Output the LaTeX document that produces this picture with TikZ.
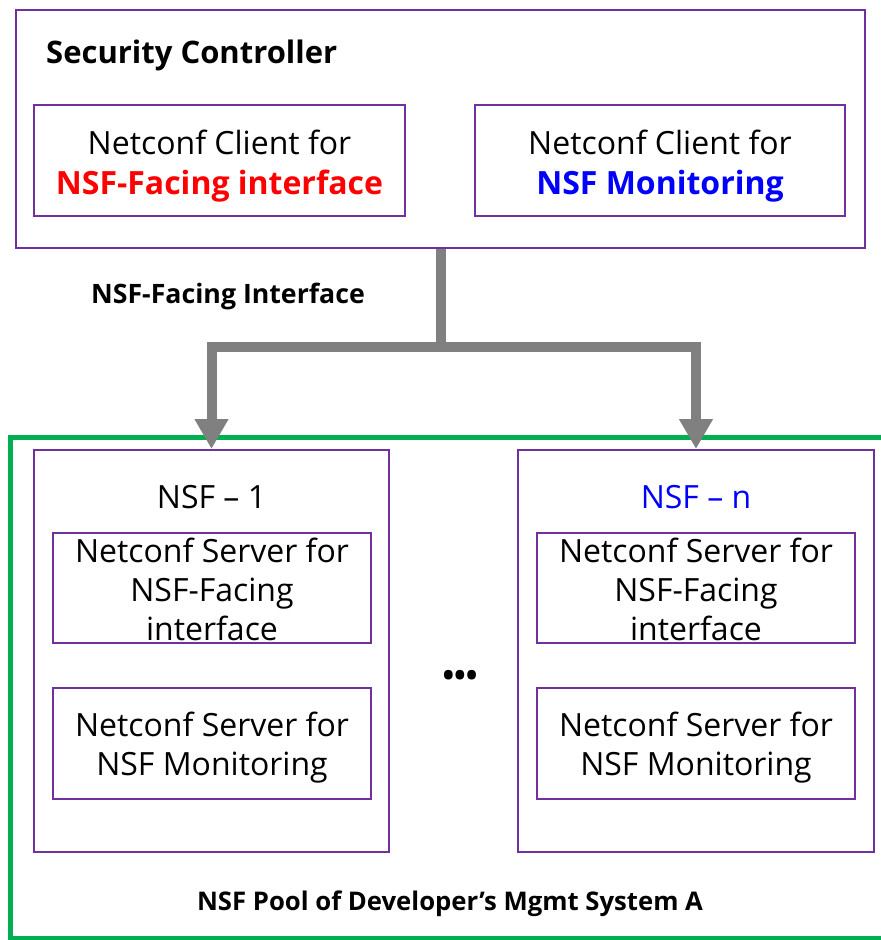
\documentclass[tikz,border=0pt]{standalone}
\usepackage{fontspec}
\setmainfont{Open Sans}
\usetikzlibrary{arrows.meta}
\definecolor{boxpurple}{HTML}{7030A0}
\definecolor{poolgreen}{HTML}{00B050}
\definecolor{linkgray}{HTML}{808080}
\definecolor{nsfred}{HTML}{FF0000}
\definecolor{nsfblue}{HTML}{0000FF}
\begin{document}
\begin{tikzpicture}[x=1pt,y=-1pt,
  frame/.style={draw=boxpurple,line width=2pt,rectangle,inner sep=0pt},
  bodytext/.style={font=\fontsize{32}{39}\selectfont,align=center,inner sep=0pt},
  link/.style={draw=linkgray,line width=10pt},
  linkarrow/.style={link,-{Triangle[width=32pt,length=30pt]}}]
\useasboundingbox (0,0) rectangle (881,940);

% security controller and its clients
\node[frame,minimum width=849pt,minimum height=238pt] (sc) at (440.5,129) {};
\node[font=\bfseries\fontsize{31}{36}\selectfont,anchor=west,inner sep=0pt] (sctitle) at (46,55) {Security Controller};
\node[frame,minimum width=371pt,minimum height=111pt] (c1) at (219.5,160.5) {};
\node[bodytext,font=\fontsize{32}{40}\selectfont] (c1text) at (219.5,166.5)
  {Netconf Client for\\\textcolor{nsfred}{\bfseries NSF-Facing interface}};
\node[frame,minimum width=370pt,minimum height=111pt] (c2) at (660,160.5) {};
\node[bodytext,font=\fontsize{32}{40}\selectfont] (c2text) at (660,166.5)
  {Netconf Client for\\\textcolor{nsfblue}{\bfseries NSF Monitoring}};

% NSF pool
\node[draw=poolgreen,line width=5pt,rectangle,minimum width=885pt,minimum height=501pt,inner sep=0pt] (pool) at (452.5,687.5) {};
\node[frame,minimum width=355pt,minimum height=402pt] (nsf1) at (211.5,651) {};
\node[frame,minimum width=356pt,minimum height=402pt] (nsfn) at (696,651) {};
\node[bodytext] (t1) at (211.5,497) {NSF -- 1};
\node[bodytext,text=nsfblue] (tn) at (696,497) {NSF -- n};

\node[frame,minimum width=318pt,minimum height=110pt] (s11) at (212,588) {};
\node[bodytext] (s11text) at (212,589) {Netconf Server for\\NSF-Facing\\interface};
\node[frame,minimum width=318pt,minimum height=111pt] (s12) at (212,743.5) {};
\node[bodytext] (s12text) at (212,747.5) {Netconf Server for\\NSF Monitoring};
\node[frame,minimum width=318pt,minimum height=110pt] (sn1) at (696,588) {};
\node[bodytext] (sn1text) at (696,589) {Netconf Server for\\NSF-Facing\\interface};
\node[frame,minimum width=318pt,minimum height=111pt] (sn2) at (696,743.5) {};
\node[bodytext] (sn2text) at (696,747.5) {Netconf Server for\\NSF Monitoring};

\node[font=\bfseries\fontsize{31}{31}\selectfont,inner sep=0pt] (dots) at (460,678) {•••};
\node[font=\bfseries\fontsize{25.7}{30}\selectfont,inner sep=0pt] (poolname) at (450,904)
  {NSF Pool of Developer’s Mgmt System A};

% NSF-facing interface links
\node[font=\bfseries\fontsize{26.7}{30}\selectfont,inner sep=0pt] (ifname) at (228,296) {NSF-Facing Interface};
\coordinate (j) at (sc.south |- 0,347);
\draw[link] (sc.south) -- (j);
\draw[linkarrow] (j) -| (nsf1.north);
\draw[linkarrow] (j) -| (nsfn.north);
\end{tikzpicture}
\end{document}
